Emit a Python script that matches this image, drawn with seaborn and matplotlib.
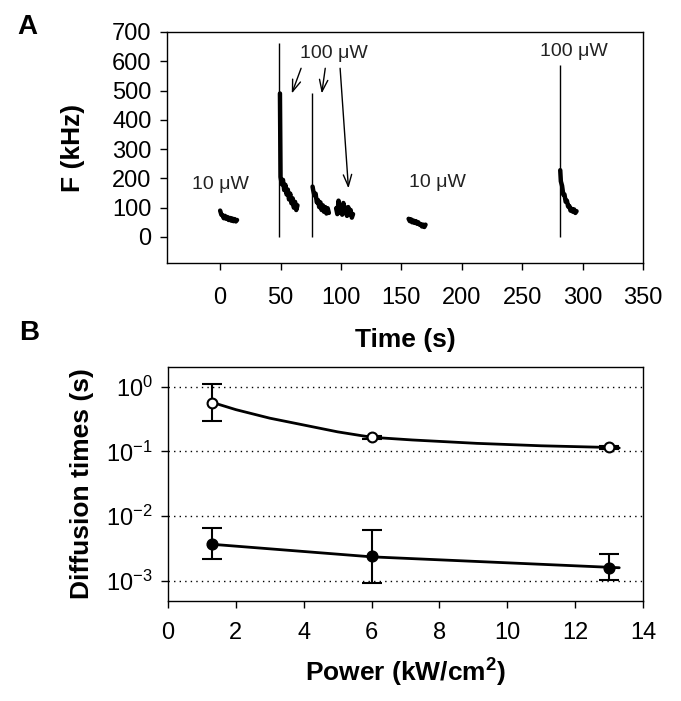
import numpy as np
import pandas as pd
import matplotlib
matplotlib.use("Agg")
import matplotlib.pyplot as plt
import seaborn as sns
from matplotlib.ticker import NullLocator

# --- panel A: fluorescence traces (F in kHz vs time in s) ---
seg1_t = [0, 1, 2, 3, 4, 5, 6, 7, 8, 9, 10, 11, 12, 13, 14]
seg1_F = [90, 76, 74, 64, 72, 62, 68, 58, 65, 56, 63, 54, 61, 53, 58]

seg2_t = [49.5, 50, 51, 52, 53, 54, 55, 56, 57, 58, 59, 60, 61, 62, 63, 64]
seg2_F = [490, 205, 180, 195, 160, 178, 145, 162, 128, 148, 115, 132, 100, 120, 92, 108]

seg3_t = [76.5, 77, 78, 79, 80, 81, 82, 83, 84, 85, 86, 87, 88, 89, 90]
seg3_F = [172, 160, 142, 148, 118, 126, 102, 118, 92, 108, 86, 102, 80, 98, 82]

seg4_t = [96, 97, 98, 99, 100, 101, 102, 103, 104, 105, 106, 107, 108, 109, 110]
seg4_F = [98, 78, 124, 84, 104, 76, 116, 82, 100, 72, 102, 76, 92, 66, 78]

seg5_t = [156, 157, 158, 159, 160, 161, 162, 163, 164, 165, 166, 167, 168, 169, 170]
seg5_F = [62, 54, 60, 50, 56, 48, 54, 45, 50, 42, 44, 36, 42, 34, 42]

seg6_t = [281.5, 282, 283, 284, 285, 286, 287, 288, 289, 290, 291, 292, 293, 294, 295]
seg6_F = [228, 190, 175, 145, 145, 120, 124, 104, 106, 90, 96, 86, 94, 82, 88]

spike_t = [49, 76, 281.3]
spike_top = [663, 490, 587]

labels_txt = ["10 μW", "100 μW", "10 μW", "100 μW"]
labels_t = [0, 94, 180, 293]
labels_F = [180, 628, 185, 633]

arrow_tail_t = [67, 87, 99.3]
arrow_tail_F = [576, 576, 576]
arrow_head_t = [59.3, 84.1, 106.2]
arrow_head_F = [490, 490, 166]

# --- panel B: diffusion times vs power ---
power = [1.3, 6.0, 13.0]
open_y = [0.566, 0.165, 0.115]
open_lo = [0.298, 0.157, 0.109]
open_hi = [1.10, 0.173, 0.121]
filled_y = [0.0038, 0.00243, 0.00162]
filled_lo = [0.0022, 0.00095, 0.00104]
filled_hi = [0.0066, 0.0062, 0.0026]

open_fit_x = [1.3, 2.0, 3.0, 4.0, 5.0, 6.0, 7.2, 9.1, 11.0, 13.0, 13.3]
open_fit_y = [0.57, 0.44, 0.325, 0.255, 0.20, 0.165, 0.150, 0.133, 0.122, 0.115, 0.113]
filled_fit_x = [1.3, 6.0, 13.3]
filled_fit_y = [0.0037, 0.00237, 0.00161]

sns.set_theme(style="ticks")
plt.rcParams["font.family"] = ["Liberation Sans", "DejaVu Sans"]
plt.rcParams["mathtext.fontset"] = "custom"
plt.rcParams["mathtext.rm"] = "Liberation Sans"
plt.rcParams["mathtext.bf"] = "Liberation Sans:bold"
plt.rcParams["axes.linewidth"] = 1.0
for k in ["text.color", "axes.labelcolor", "axes.edgecolor", "xtick.color", "ytick.color"]:
    plt.rcParams[k] = "black"

fig = plt.figure(figsize=(6.81, 7.01), dpi=100)
axA = fig.add_axes([0.2452, 0.6248, 0.699, 0.3296])
axB = fig.add_axes([0.2467, 0.1431, 0.6975, 0.3334])

# panel A
segs = [(seg1_t, seg1_F), (seg2_t, seg2_F), (seg3_t, seg3_F),
        (seg4_t, seg4_F), (seg5_t, seg5_F), (seg6_t, seg6_F)]
trace_df = pd.concat([pd.DataFrame({"t": t, "F": f, "seg": i})
                      for i, (t, f) in enumerate(segs)], ignore_index=True)
sns.lineplot(data=trace_df, x="t", y="F", units="seg", estimator=None,
             color="black", lw=3.2, ax=axA, legend=False)
axA.vlines(spike_t, 0, spike_top, color="black", lw=1)

for txt, t, f in zip(labels_txt, labels_t, labels_F):
    axA.text(t, f, txt, ha="center", va="center", fontsize=14, color="#222222")
for tt, tf, ht, hf in zip(arrow_tail_t, arrow_tail_F, arrow_head_t, arrow_head_F):
    axA.annotate("", xy=(ht, hf), xytext=(tt, tf),
                 arrowprops=dict(arrowstyle="->,head_length=0.7,head_width=0.25",
                                 color="black", lw=1, shrinkA=0, shrinkB=0))

axA.set_xlim(-44, 350)
axA.set_ylim(-89, 700)
axA.set_xticks(range(0, 351, 50))
axA.set_yticks(range(0, 701, 100))
axA.tick_params(axis="x", direction="out", length=5, width=1, labelsize=17, pad=12)
axA.tick_params(axis="y", direction="out", length=5, width=1, labelsize=17, pad=6)
axA.set_xlabel("Time (s)", fontsize=19, fontweight="bold")
axA.set_ylabel("F (kHz)", fontsize=19, fontweight="bold")
axA.xaxis.set_label_coords(0.5, -0.28)
axA.yaxis.set_label_coords(-0.172, 0.5)

# panel B
axB.set_yscale("log")
sns.lineplot(x=open_fit_x, y=open_fit_y, color="black", lw=2, ax=axB)
sns.lineplot(x=filled_fit_x, y=filled_fit_y, color="black", lw=2, ax=axB)
axB.errorbar(power, open_y,
             yerr=[np.array(open_y) - np.array(open_lo), np.array(open_hi) - np.array(open_y)],
             fmt="none", ecolor="black", elinewidth=1.5, capsize=7, capthick=1.5, zorder=3)
axB.errorbar(power, filled_y,
             yerr=[np.array(filled_y) - np.array(filled_lo), np.array(filled_hi) - np.array(filled_y)],
             fmt="none", ecolor="black", elinewidth=1.5, capsize=7, capthick=1.5, zorder=3)
sns.scatterplot(x=power, y=open_y, marker="o", s=50, color="white",
                edgecolor="black", linewidth=1.5, ax=axB, zorder=5)
sns.scatterplot(x=power, y=filled_y, marker="o", s=60, color="black",
                edgecolor="black", linewidth=1, ax=axB, zorder=5)

axB.set_xlim(0, 14)
axB.set_ylim(5e-4, 2)
axB.set_xticks(range(0, 15, 2))
axB.set_yticks([1e-3, 1e-2, 1e-1, 1])
axB.yaxis.set_minor_locator(NullLocator())
axB.grid(axis="y", which="major", color="black", lw=1, ls=(0, (1, 3)))
axB.tick_params(axis="x", direction="out", length=5, width=1, labelsize=17, pad=10)
axB.tick_params(axis="y", direction="out", length=5, width=1, labelsize=17, pad=6)
axB.set_xlabel("Power (kW/cm$\\mathbf{^{2}}$)", fontsize=19, fontweight="bold")
axB.set_ylabel("Diffusion times (s)", fontsize=19, fontweight="bold")
axB.xaxis.set_label_coords(0.5, -0.24)
axB.yaxis.set_label_coords(-0.155, 0.5)

fig.text(0.040, 0.962, "A", fontsize=20, fontweight="bold", ha="center", va="center")
fig.text(0.043, 0.525, "B", fontsize=20, fontweight="bold", ha="center", va="center")

fig.savefig("out.png", dpi=100)
